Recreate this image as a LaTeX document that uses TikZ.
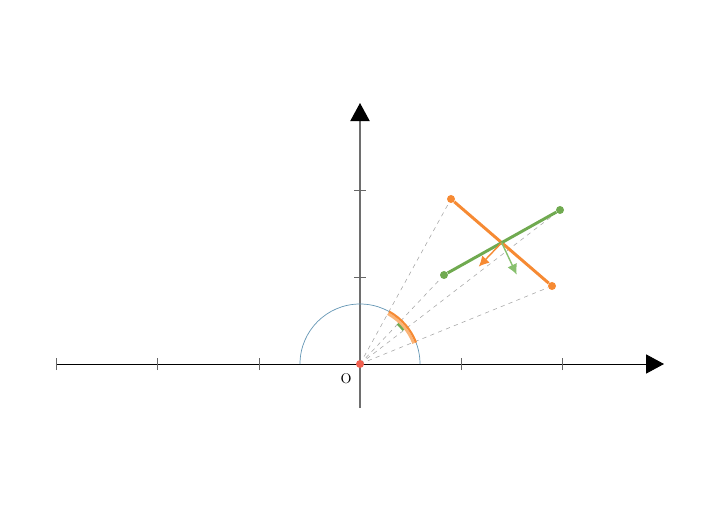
\documentclass[tikz,border=0pt]{standalone}
\usetikzlibrary{arrows.meta,calc}
\definecolor{segorange}{RGB}{246,138,51}
\definecolor{lightorange}{RGB}{250,180,120}
\definecolor{seggreen}{RGB}{112,170,80}
\definecolor{arrowgreen}{RGB}{135,192,110}
\definecolor{arcblue}{RGB}{100,150,180}
\definecolor{origred}{RGB}{240,96,80}
\definecolor{axisgray}{RGB}{110,110,110}
\tikzset{
  dot/.style={fill=#1, circle, inner sep=0pt, minimum size=0.2cm},
  tickmark/.style={black!60, line width=0.7pt},
  rayline/.style={gray!70, dashed, line width=0.4pt},
  bigtip/.style={-{Triangle[length=0.45cm, width=0.48cm, color=black]}},
  normaltip/.style={-{Latex[length=0.26cm, width=0.26cm]}},
}
\begin{document}
\begin{tikzpicture}[x=0.025cm, y=0.025cm]
      \useasboundingbox (-360,-148) rectangle (360,364);

      % Eixos
      \draw[bigtip, line width=0.7pt] (-304,0) -- (304,0);
      \draw[bigtip, axisgray, line width=0.9pt] (0,-44) -- (0,261);
      \foreach \x in {-304,-203,-101,101,202}
        \draw[tickmark] (\x,-6) -- (\x,6);
      \foreach \y in {87,174}
        \draw[tickmark] (-6,\y) -- (6,\y);
      \node (O) at (-14,-15) {O};

      % Extremidades dos segmentos
      \node[dot=segorange] (oa) at (91,165) {};
      \node[dot=segorange] (ob) at (192,78) {};
      \node[dot=seggreen] (ga) at (84,89) {};
      \node[dot=seggreen] (gb) at (200,154) {};
      \coordinate (orig) at (0,0);
      \coordinate (X) at (intersection of oa--ob and ga--gb);

      % Raios tracejados
      \draw[rayline] (orig) -- (oa);
      \draw[rayline] (orig) -- (ob);
      \draw[rayline] (orig) -- (ga);
      \draw[rayline] (orig) -- (gb);

      % Semicirculo e arcos angulares
      \draw[arcblue, line width=0.5pt] (60,0) arc[start angle=0, end angle=180, radius=60];
      \draw[lightorange, line width=2pt] (21:57.5) arc[start angle=21, end angle=61, radius=57.5];
      \draw[segorange, line width=1.5pt] (21:60) arc[start angle=21, end angle=61, radius=60];
      \draw[seggreen, line width=1.6pt] (38:55) arc[start angle=38, end angle=47, radius=55];

      % Segmentos
      \draw[segorange, line width=2.1pt] (oa) -- (ob);
      \draw[seggreen, line width=2.1pt] (ga) -- (gb);

      % Normais
      \coordinate (on) at ($(X)+(-23,-24)$);
      \coordinate (gn) at ($(X)+(15,-32)$);
      \draw[segorange, line width=1pt, normaltip] (X) -- (on);
      \draw[arrowgreen, line width=1pt, normaltip] (X) -- (gn);

      % Origem
      \node[dot=origred] (o) at (orig) {};
\end{tikzpicture}
\end{document}
